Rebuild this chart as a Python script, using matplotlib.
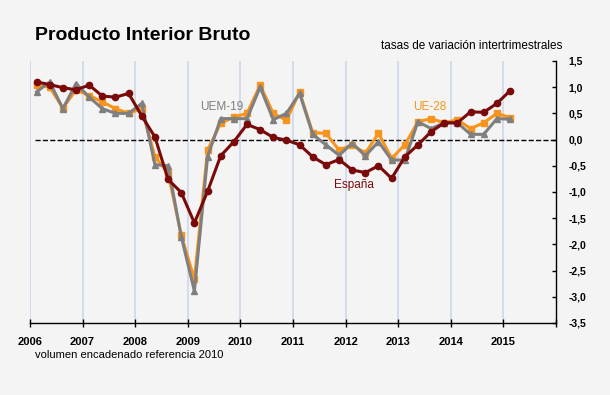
import numpy as np
import matplotlib.pyplot as plt

plt.rcParams['font.family'] = ['Liberation Sans', 'DejaVu Sans']

# quarterly rates, 2006Q1 .. 2015Q1
espana = [1.10, 1.05, 0.99, 0.95,
          1.04, 0.83, 0.81, 0.88,
          0.45, 0.05, -0.76, -1.01,
          -1.59, -0.99, -0.31, -0.04,
          0.29, 0.19, 0.04, -0.01,
          -0.10, -0.33, -0.48, -0.38,
          -0.58, -0.63, -0.50, -0.74,
          -0.33, -0.10, 0.15, 0.32,
          0.32, 0.53, 0.52, 0.69,
          0.93]
ue28 = [1.04, 1.00, 0.60, 0.95,
        0.84, 0.72, 0.59, 0.50,
        0.59, -0.33, -0.64, -1.82,
        -2.67, -0.20, 0.31, 0.43,
        0.50, 1.04, 0.50, 0.37,
        0.91, 0.13, 0.12, -0.20,
        -0.10, -0.26, 0.12, -0.36,
        -0.10, 0.34, 0.40, 0.32,
        0.38, 0.21, 0.32, 0.50,
        0.42]
uem19 = [0.91, 1.10, 0.59, 1.07,
         0.81, 0.59, 0.50, 0.50,
         0.69, -0.48, -0.50, -1.85,
         -2.89, -0.33, 0.40, 0.40,
         0.40, 1.00, 0.38, 0.50,
         0.88, 0.10, -0.10, -0.30,
         -0.07, -0.31, -0.04, -0.39,
         -0.39, 0.34, 0.21, 0.32,
         0.32, 0.10, 0.10, 0.40,
         0.39]
years = list(range(2006, 2017))
yticks = [1.5, 1.0, 0.5, 0.0, -0.5, -1.0, -1.5, -2.0, -2.5, -3.0, -3.5]

bg = '#f4f4f4'
c_es = '#7a0a0a'
c_ue = '#f7941d'
c_uem = '#7f7f7f'

x = 2006 + np.arange(len(espana)) * 0.25 + 0.125

fig = plt.figure(figsize=(6.1, 3.95), dpi=100, facecolor=bg)
ax = fig.add_axes([0.0492, 0.1823, 0.8623, 0.6633], facecolor=bg)

# year gridlines
for yr in years[:-1]:
    ax.axvline(yr, color='#cdd8ec', lw=1.2, zorder=0)
ax.plot([2006.1, 2016], [0, 0], ls='--', color='black', lw=1, zorder=1)

ax.plot(x, espana, '-o', color=c_es, lw=2.2, markersize=4.5, zorder=3)
ax.plot(x, ue28, '-s', color=c_ue, lw=2.2, markersize=5, zorder=2)
ax.plot(x, uem19, '-^', color=c_uem, lw=2.2, markersize=5, zorder=2.5)

ax.text(2009.65, 0.63, 'UEM-19', color=c_uem, fontsize=8.5, ha='center', va='center')
ax.text(2013.6, 0.63, 'UE-28', color=c_ue, fontsize=8.5, ha='center', va='center')
ax.text(2012.15, -0.87, 'España', color=c_es, fontsize=8.5, ha='center', va='center')

ax.set_xlim(2006, 2016)
ax.set_ylim(-3.5, 1.5)

ax.spines['left'].set_visible(False)
ax.spines['top'].set_visible(False)
ax.spines['right'].set_linewidth(1)
ax.spines['bottom'].set_linewidth(1)

ax.set_xticks(years)
ax.set_xticklabels([str(y) for y in years[:-1]] + [''], fontsize=8, fontweight='bold')
ax.tick_params(axis='x', direction='inout', length=6, width=1, pad=7)

ax.yaxis.tick_right()
ax.set_yticks(yticks)
ax.set_yticklabels([('%.1f' % v).replace('.', ',') for v in yticks],
                   fontsize=7.5, fontweight='bold')
ax.tick_params(axis='y', direction='in', length=3, width=1, pad=9)

fig.text(35 / 610, 1 - 35 / 395, 'Producto Interior Bruto', fontsize=14,
         fontweight='bold', va='center', ha='left')
fig.text(562 / 610, 1 - 46 / 395, 'tasas de variación intertrimestrales',
         fontsize=8.5, va='center', ha='right')
fig.text(35 / 610, 1 - 355 / 395, 'volumen encadenado referencia 2010',
         fontsize=8, va='center', ha='left')

fig.savefig('out.png', dpi=100, facecolor=bg)
